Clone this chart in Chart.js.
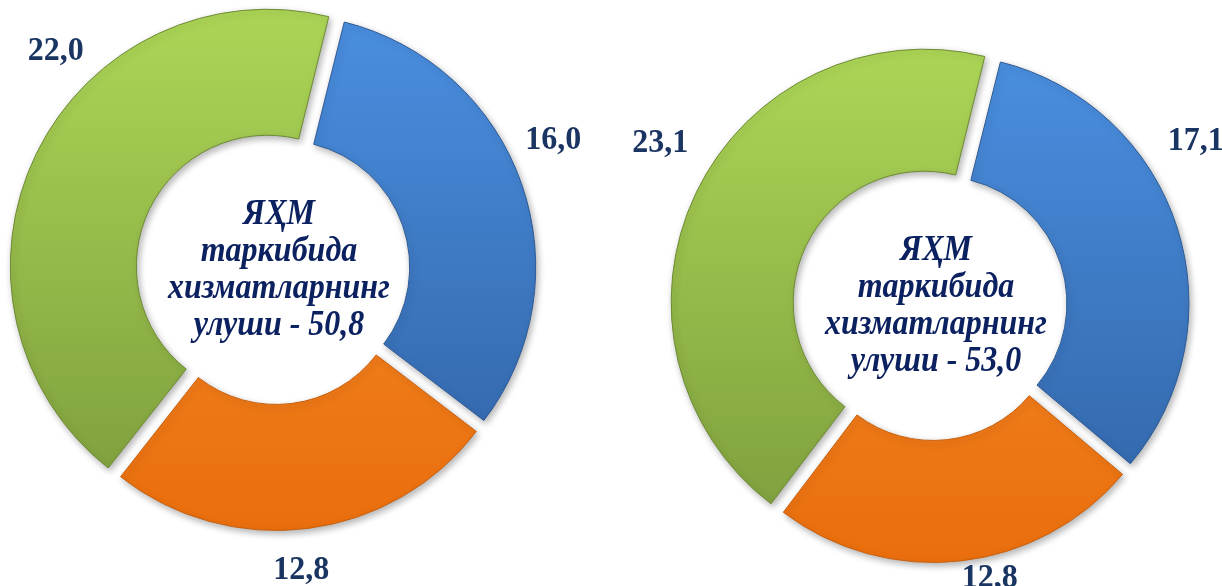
<!DOCTYPE html>
<html>
<head>
<meta charset="utf-8">
<script src="https://cdn.jsdelivr.net/npm/chart.js@4"></script>
<style>
  html, body { margin: 0; padding: 0; background: #fff; }
  #wrap { position: relative; width: 1222px; height: 586px; overflow: hidden; }
  .box { position: absolute; top: 0; width: 611px; height: 586px; }
</style>
</head>
<body>
<div id="wrap">
  <div class="box" style="left:0"><canvas id="chart1" width="611" height="586"></canvas></div>
  <div class="box" style="left:611px"><canvas id="chart2" width="611" height="586"></canvas></div>
</div>
<script>
// data
const categories = ['Улуш 1', 'Улуш 2', 'Улуш 3'];
const values1 = [16.0, 12.8, 22.0];
const values2 = [17.1, 12.8, 23.1];
const centerLines1 = ['ЯҲМ', 'таркибида', 'хизматларнинг', 'улуши - 50,8'];
const centerLines2 = ['ЯҲМ', 'таркибида', 'хизматларнинг', 'улуши - 53,0'];

// styles: [top colour, bottom colour] for blue, orange, green
const gradStops = [
  ['#4a8fe0', '#3062a4'],
  ['#f7922e', '#ea6e0d'],
  ['#acd556', '#7c9c3c']
];
const edgeColors = ['#2c5a96', '#c8600e', '#6d8a33'];
const valueColor = '#1b3562';
const centerColor = '#0b2160';

// label placement around each ring: angle (deg, clockwise from top), distance from centre
const labelPos1 = [{ a: 65, d: 307 }, { a: 175, d: 301 }, { a: 315, d: 310 }];
const labelPos2 = [{ a: 58, d: 311 }, { a: 168, d: 278 }, { a: 301, d: 317 }];

function fmt(v) {
  return v.toFixed(1).replace('.', ',');
}

function stretchedText(c, txt, x, y, sy) {
  c.save();
  c.translate(x, y);
  c.scale(1, sy);
  c.fillText(txt, 0, 0);
  c.restore();
}

const ringText = {
  id: 'ringText',
  beforeDatasetsDraw(chart) {
    const c = chart.ctx;
    c.save();
    c.shadowColor = 'rgba(0,0,0,0.30)';
    c.shadowBlur = 7;
    c.shadowOffsetX = 2;
    c.shadowOffsetY = 3;
  },
  afterDatasetsDraw(chart) {
    chart.ctx.restore();
  },
  afterDraw(chart, args, opts) {
    const arc = chart.getDatasetMeta(0).data[0];
    const cx = arc.x, cy = arc.y;
    const c = chart.ctx;
    const vals = chart.data.datasets[0].data;
    c.save();
    c.textAlign = 'center';
    c.textBaseline = 'middle';
    c.fillStyle = valueColor;
    c.font = 'bold 32px "Liberation Serif", serif';
    vals.forEach((v, i) => {
      const p = opts.pos[i];
      const a = (p.a - 90) * Math.PI / 180;
      stretchedText(c, fmt(v), cx + Math.cos(a) * p.d, cy + Math.sin(a) * p.d, 1.08);
    });
    c.textBaseline = 'alphabetic';
    c.fillStyle = centerColor;
    c.font = 'italic bold 32px "Liberation Serif", serif';
    opts.lines.forEach((ln, i) => {
      stretchedText(c, ln, cx + 4, cy - 46 + i * 37, 1.1);
    });
    c.restore();
  }
};

function makeChart(id, values, lines, pos, radius, cutout, padding) {
  const ctx = document.getElementById(id).getContext('2d');
  return new Chart(ctx, {
    type: 'doughnut',
    data: {
      labels: categories,
      datasets: [{
        data: values,
        backgroundColor: (context) => {
          const chart = context.chart;
          const area = chart.chartArea;
          const i = context.dataIndex;
          if (!area) return gradStops[i][0];
          const cy = (area.top + area.bottom) / 2;
          const g = chart.ctx.createLinearGradient(0, cy - radius, 0, cy + radius);
          g.addColorStop(0, gradStops[i][0]);
          g.addColorStop(1, gradStops[i][1]);
          return g;
        },
        borderColor: edgeColors,
        borderWidth: 1,
        offset: 34
      }]
    },
    options: {
      responsive: false,
      animation: false,
      rotation: 14,
      radius: radius,
      cutout: cutout,
      layout: { padding: padding },
      events: [],
      plugins: {
        legend: { display: false },
        tooltip: { enabled: false },
        ringText: { lines: lines, pos: pos }
      }
    },
    plugins: [ringText]
  });
}

makeChart('chart1', values1, centerLines1, labelPos1, 252, '50%',
  { left: 0, right: 61, top: 0, bottom: 46 });
makeChart('chart2', values2, centerLines2, labelPos2, 248, '50.8%',
  { left: 70, right: 39, top: 40, bottom: 14 });
</script>
</body>
</html>
